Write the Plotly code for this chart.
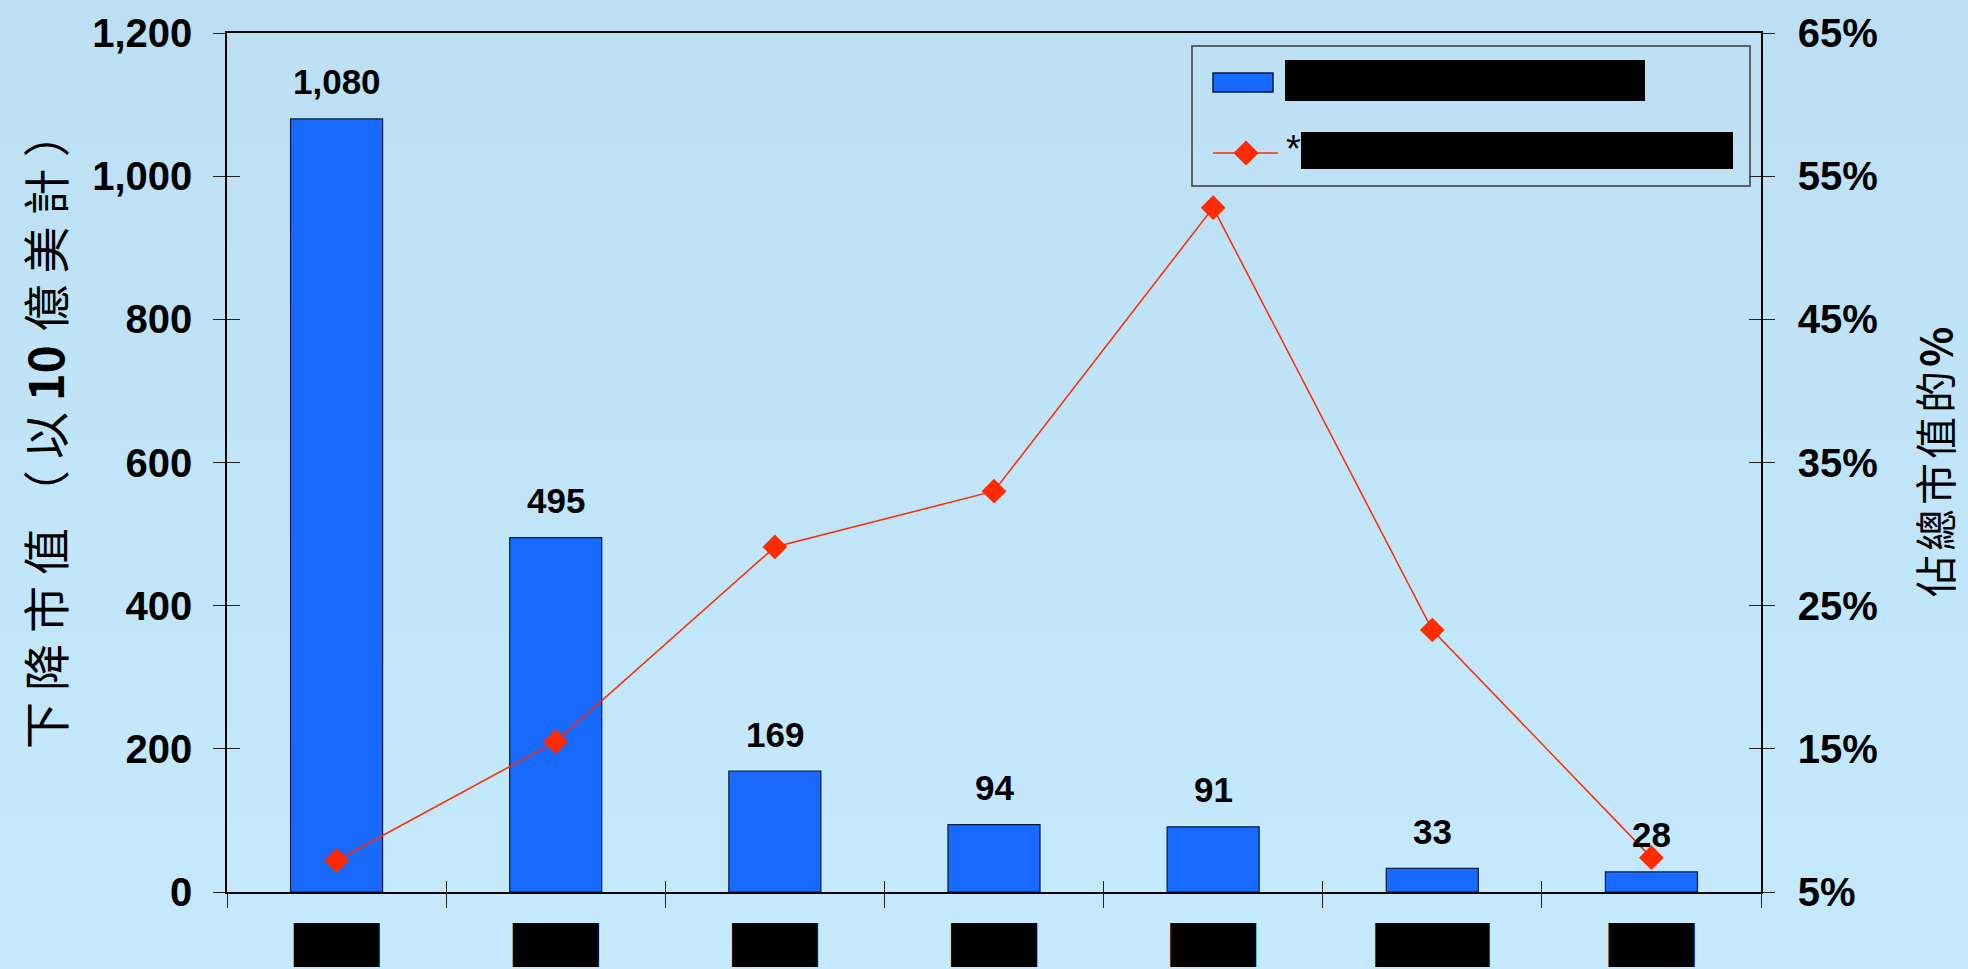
import plotly.graph_objects as go

# ---- data -------------------------------------------------------------
categories = ["███", "███", "███", "███", "███", "████", "███"]
decline_value = [1080, 495, 169, 94, 91, 33, 28]          # 下降市值（以10億美計）
share_of_cap = [7.2, 15.5, 29.1, 33.0, 52.8, 23.3, 7.4]   # 佔總市值的 %
left_ticks = [0, 200, 400, 600, 800, 1000, 1200]
right_ticks = [5, 15, 25, 35, 45, 55, 65]
legend_bar_label = "████████████"
legend_line_mark = "*"
legend_line_label = "████████████"

# ---- geometry / styles ------------------------------------------------
W, H = 1968, 969
L, R, T, B = 227, 207, 33, 77
PW, PH = W - L - R, H - T - B

BAR_BLUE = "#1769FF"
BAR_EDGE = "#0A1A3C"
LINE_RED = "#FF2A00"
TOP_BG = (188, 223, 243)
BOT_BG = (197, 234, 253)


def px_x(px):
    return (px - L) / PW


def px_y(py):
    return 1 - (py - T) / PH


xpos = list(range(len(categories)))
bounds = [i - 0.5 for i in range(len(categories) + 1)]

fig = go.Figure()

fig.add_trace(go.Bar(
    x=xpos, y=decline_value, width=0.42,
    marker=dict(color=BAR_BLUE, line=dict(color=BAR_EDGE, width=1.2)),
    showlegend=False, hoverinfo="y",
))
fig.add_trace(go.Scatter(
    x=xpos, y=share_of_cap, yaxis="y2", mode="lines+markers",
    line=dict(color=LINE_RED, width=1.5),
    marker=dict(symbol="diamond", size=19, color=LINE_RED, line=dict(width=0)),
    showlegend=False, hoverinfo="y",
))
# empty traces that carry the tick-only overlay axes (ticks crossing the axis lines)
for xa, ya in [("x2", "y"), ("x3", "y"), ("x", "y3"), ("x", "y4")]:
    fig.add_trace(go.Scatter(x=[], y=[], xaxis=xa, yaxis=ya,
                             showlegend=False, hoverinfo="skip"))

tick_font = dict(family="Liberation Sans", size=40, color="black", weight="bold")
xr = [-0.5, len(categories) - 0.5]
yr = [0, 1200]
y2r = [5, 65]
tick_only = dict(showticklabels=False, showline=False, showgrid=False,
                 zeroline=False, automargin=False, tickwidth=1.2, tickcolor="#222")

fig.update_layout(
    width=W, height=H,
    margin=dict(l=L, r=R, t=T, b=B, pad=0, autoexpand=False),
    paper_bgcolor="rgb(%d,%d,%d)" % TOP_BG,
    plot_bgcolor="rgba(0,0,0,0)",
    showlegend=False,
    xaxis=dict(
        range=xr, tickvals=xpos, ticktext=categories, ticks="",
        tickfont=dict(family="DejaVu Sans", size=37, color="black"),
        ticklabelstandoff=20, automargin=False,
        showline=True, linecolor="black", linewidth=1.5, mirror=True,
        showgrid=False, zeroline=False,
    ),
    xaxis2=dict(overlaying="x", anchor="y", side="bottom", range=xr,
                tickvals=bounds, ticks="outside", ticklen=15, **tick_only),
    xaxis3=dict(overlaying="x", anchor="y", side="bottom", range=xr,
                tickvals=bounds, ticks="inside", ticklen=11, **tick_only),
    yaxis=dict(
        range=yr, tickvals=left_ticks, tickformat=",",
        ticks="outside", ticklen=12, tickwidth=1.2, tickcolor="#222",
        tickfont=tick_font, ticklabelstandoff=13, automargin=False,
        showline=True, linecolor="black", linewidth=1.5,
        showgrid=False, zeroline=False,
    ),
    yaxis2=dict(
        overlaying="y", side="right", anchor="x", range=y2r,
        tickvals=right_ticks, ticktext=[f"{v}%" for v in right_ticks],
        ticks="outside", ticklen=12, tickwidth=1.2, tickcolor="#222",
        tickfont=tick_font, ticklabelstandoff=15, automargin=False,
        showline=True, linecolor="black", linewidth=1.5,
        showgrid=False, zeroline=False,
    ),
    yaxis3=dict(overlaying="y", side="left", anchor="x", range=yr,
                tickvals=left_ticks, ticks="inside", ticklen=13, **tick_only),
    yaxis4=dict(overlaying="y", side="right", anchor="x", range=y2r,
                tickvals=right_ticks, ticks="inside", ticklen=12, **tick_only),
)

# ---- soft vertical background gradient --------------------------------
shapes = []
bands = 60
for i in range(bands):
    t = i / (bands - 1)
    col = tuple(round(a + (b - a) * t) for a, b in zip(TOP_BG, BOT_BG))
    y0 = H * i / bands
    y1 = H * (i + 1) / bands + 1
    shapes.append(dict(
        type="rect", xref="paper", yref="paper", layer="below",
        x0=px_x(-2), x1=px_x(W + 2), y0=px_y(y1), y1=px_y(y0),
        fillcolor="rgb(%d,%d,%d)" % col, line=dict(width=0),
    ))

# ---- legend -------------------------------------------------------------
shapes += [
    dict(type="rect", xref="paper", yref="paper",
         x0=px_x(1192), x1=px_x(1750), y0=px_y(186), y1=px_y(46),
         line=dict(color="#3a3a3a", width=1.5), fillcolor="rgba(0,0,0,0)"),
    dict(type="rect", xref="paper", yref="paper",
         x0=px_x(1213), x1=px_x(1273), y0=px_y(92), y1=px_y(73),
         line=dict(color=BAR_EDGE, width=1.5), fillcolor=BAR_BLUE),
    dict(type="line", xref="paper", yref="paper",
         x0=px_x(1213), x1=px_x(1278), y0=px_y(153), y1=px_y(153),
         line=dict(color=LINE_RED, width=1.5)),
    dict(type="path", xref="paper", yref="paper",
         xsizemode="pixel", ysizemode="pixel",
         xanchor=px_x(1246), yanchor=px_y(153),
         path="M 12.5 0 L 0 12.5 L -12.5 0 L 0 -12.5 Z",
         fillcolor=LINE_RED, line=dict(width=0)),
]

annotations = [
    dict(text=legend_bar_label, xref="paper", yref="paper",
         x=px_x(1285), y=px_y(80.5), xanchor="left", yanchor="middle",
         width=360, height=41, bgcolor="black", borderpad=0, borderwidth=0,
         font=dict(family="DejaVu Sans", size=24, color="black"), showarrow=False),
    dict(text=legend_line_mark, xref="paper", yref="paper",
         x=px_x(1284), y=px_y(148.5), xanchor="left", yanchor="middle",
         font=dict(family="Liberation Sans", size=38, color="black"), showarrow=False),
    dict(text=legend_line_label, xref="paper", yref="paper",
         x=px_x(1301), y=px_y(150.5), xanchor="left", yanchor="middle",
         width=432, height=37, bgcolor="black", borderpad=0, borderwidth=0,
         font=dict(family="DejaVu Sans", size=24, color="black"), showarrow=False),
]

# value labels above the bars
for xi, v in zip(xpos, decline_value):
    annotations.append(dict(
        text=f"{v:,}", x=xi, y=v, xref="x", yref="y",
        yanchor="middle", yshift=37, showarrow=False,
        font=dict(family="Liberation Sans", size=35, color="black", weight="bold"),
    ))

# axis titles
spaced = '<span style="letter-spacing:11px">%s</span>'
annotations.append(dict(
    text=spaced % "下降市值（以" + "<b>10</b>" + spaced % "&#8202;億美計）",
    textangle=-90,
    xref="paper", yref="paper", x=px_x(44), y=px_y(425),
    xanchor="center", yanchor="middle", showarrow=False,
    font=dict(family="Noto Sans CJK TC", size=47, color="black"),
))
annotations.append(dict(
    text='<span style="letter-spacing:4px">佔總市值的<b>%</b></span>',
    textangle=-90,
    xref="paper", yref="paper", x=px_x(1933), y=px_y(460),
    xanchor="center", yanchor="middle", showarrow=False,
    font=dict(family="Noto Sans CJK TC", size=42, color="black"),
))

fig.update_layout(shapes=shapes, annotations=annotations)
fig.write_html("out.html")
